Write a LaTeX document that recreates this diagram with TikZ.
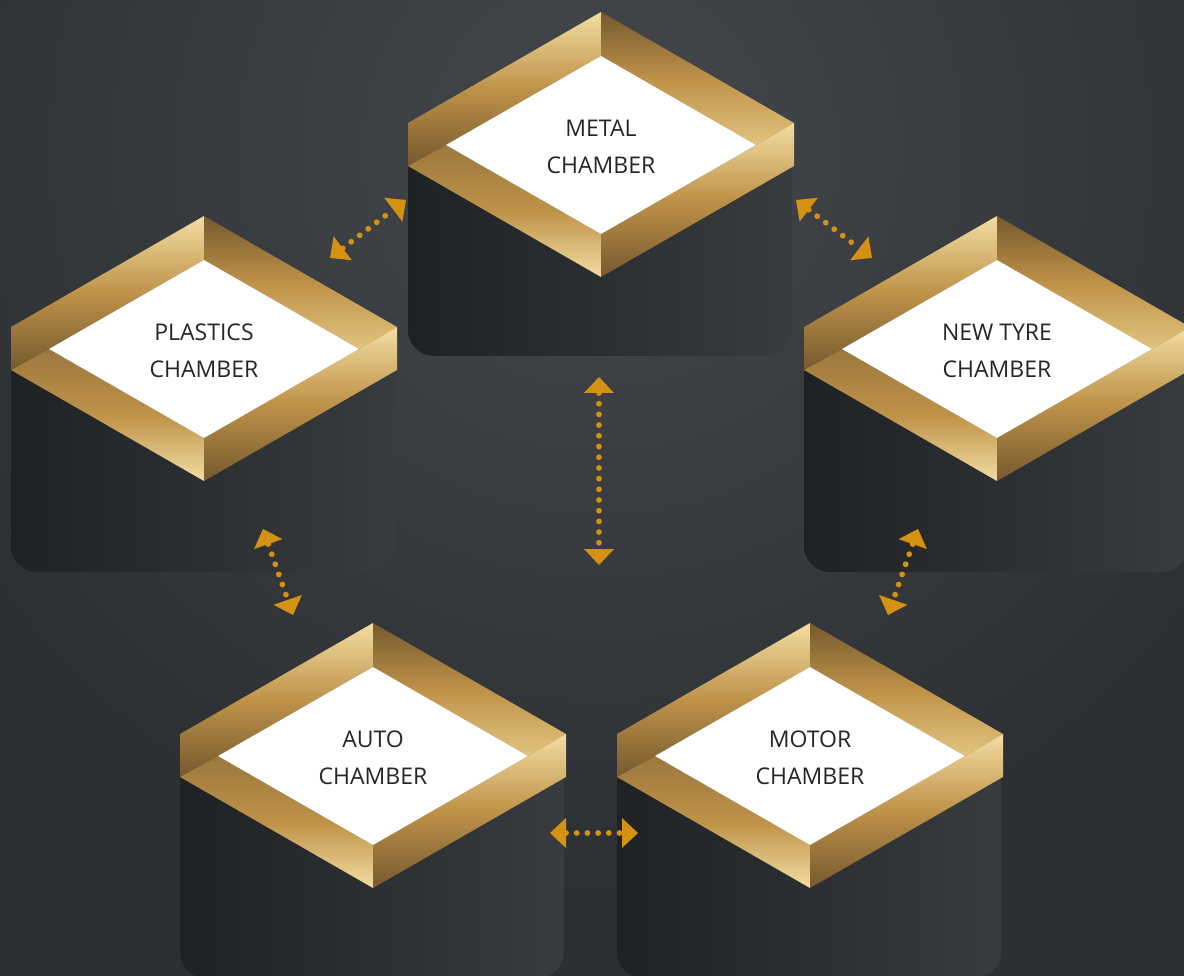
\documentclass[tikz,border=0pt]{standalone}
\usepackage{fontspec}
\setmainfont{Open Sans}
\usepackage{xcolor}
\usepackage{tikz}
\usetikzlibrary{arrows.meta}

\definecolor{bgdark}{RGB}{44,48,51}
\definecolor{bglight}{RGB}{68,72,76}
\definecolor{boxdark}{RGB}{31,34,37}
\definecolor{boxlight}{RGB}{57,60,63}
\definecolor{goldlight}{RGB}{243,221,162}
\definecolor{goldpale}{RGB}{226,196,126}
\definecolor{goldmid}{RGB}{190,146,72}
\definecolor{goldbrown}{RGB}{156,120,62}
\definecolor{golddark}{RGB}{118,89,47}
\definecolor{arrowgold}{RGB}{212,145,18}
\definecolor{inktext}{RGB}{38,38,38}

\begin{document}
\begin{tikzpicture}[x=1pt, y=-1pt,
    chambertext/.style={align=center, text=inktext, font=\fontsize{23}{37}\selectfont},
    link/.style={draw=arrowgold, line width=5.8pt, line cap=round, dash pattern=on 0pt off 10.7pt,
        {Triangle[width=30pt,length=16pt,line width=0pt]}-{Triangle[width=30pt,length=16pt,line width=0pt]}}]

    % Page and background
    \useasboundingbox (0,0) rectangle (1184,976);
    \clip (0,0) rectangle (1184,976);
    \fill[bgdark] (0,0) rectangle (1184,976);
    \shade[inner color=bglight, outer color=bgdark] (600,150) circle (750);

    % One chamber: dark box, twisted golden frame, white window with its name
    \def\chamber#1#2#3#4#5{%
        \begin{scope}[shift={(#2,#3)}]
            \shade[left color=boxdark, right color=boxlight, rounded corners=26]
                (-193,0) rectangle (191,#4);
            \shade[top color=goldlight, bottom color=golddark, middle color=goldmid]
                (-193,-22) -- (0,-133) -- (0,-89) -- (-155,0) -- (-193,21) -- cycle;
            \shade[top color=golddark, bottom color=goldpale, middle color=goldmid]
                (0,-133) -- (193,-22) -- (155,0) -- (0,-89) -- cycle;
            \shade[top color=goldbrown, bottom color=goldlight, middle color=goldmid]
                (-193,21) -- (-155,0) -- (0,89) -- (0,132) -- cycle;
            \shade[top color=goldlight, bottom color=golddark, middle color=goldmid]
                (155,0) -- (193,-22) -- (193,21) -- (0,132) -- (0,89) -- cycle;
            \fill[white] (0,-89) -- (155,0) -- (0,89) -- (-155,0) -- cycle;
            \node[chambertext] (#1) at (0,2) {#5};
        \end{scope}
    }

    % The five chambers
    \chamber{metal}{601}{145}{211}{METAL\\CHAMBER}
    \chamber{plastics}{204}{349}{223}{PLASTICS\\CHAMBER}
    \chamber{tyre}{997}{349}{223}{NEW TYRE\\CHAMBER}
    \chamber{auto}{373}{756}{222}{AUTO\\CHAMBER}
    \chamber{motor}{810}{756}{222}{MOTOR\\CHAMBER}

    % Ends of the dotted links
    \coordinate (mp1) at (330,258);
    \coordinate (mp2) at (406,200);
    \coordinate (mt1) at (796,200);
    \coordinate (mt2) at (872,258);
    \coordinate (mc1) at (599,377);
    \coordinate (mc2) at (599,565);
    \coordinate (pa1) at (263,529);
    \coordinate (pa2) at (293,615);
    \coordinate (tm1) at (918,529);
    \coordinate (tm2) at (888,615);
    \coordinate (am1) at (550,833);
    \coordinate (am2) at (638,833);

    % Dotted two-way links
    \draw[link] (mp1) -- (mp2);
    \draw[link] (mt1) -- (mt2);
    \draw[link] (mc1) -- (mc2);
    \draw[link] (pa1) -- (pa2);
    \draw[link] (tm1) -- (tm2);
    \draw[link] (am1) -- (am2);
\end{tikzpicture}
\end{document}
